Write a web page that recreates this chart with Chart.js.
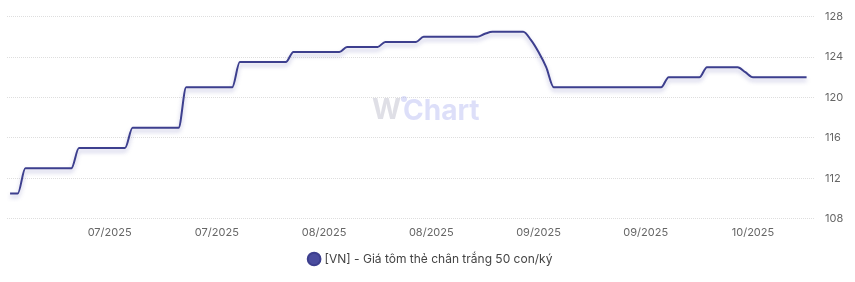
<!DOCTYPE html>
<html>
<head>
<meta charset="utf-8">
<script src="https://cdn.jsdelivr.net/npm/chart.js@4/dist/chart.umd.min.js"></script>
<style>
  html, body { margin: 0; padding: 0; background: #fff; }
  #wrap { position: relative; width: 855px; height: 282px; }
</style>
</head>
<body>
<div id="wrap"><canvas id="pricechart" width="855" height="282"></canvas></div>
<script>
// daily price, one value per day (k = 0..104)
var prices = [
    110.5, 110.5,
    113, 113, 113, 113, 113, 113, 113,
    115, 115, 115, 115, 115, 115, 115,
    117, 117, 117, 117, 117, 117, 117,
    121, 121, 121, 121, 121, 121, 121,
    123.5, 123.5, 123.5, 123.5, 123.5, 123.5, 123.5,
    124.5, 124.5, 124.5, 124.5, 124.5, 124.5, 124.5,
    125, 125, 125, 125, 125,
    125.5, 125.5, 125.5, 125.5, 125.5,
    126, 126, 126, 126, 126, 126, 126, 126,
    126.3,
    126.5, 126.5, 126.5, 126.5, 126.5,
    125.7, 124.5, 123.0,
    121, 121, 121, 121, 121, 121, 121, 121, 121, 121, 121, 121, 121, 121, 121,
    122, 122, 122, 122, 122,
    123, 123, 123, 123, 123,
    122.5,
    122, 122, 122, 122, 122, 122, 122, 122
];
var tickDays = [13, 27, 41, 55, 69, 83, 97];
var tickLabels = ['07/2025', '07/2025', '08/2025', '08/2025', '09/2025', '09/2025', '10/2025'];
var yTicks = [108, 112, 116, 120, 124, 128];
var seriesName = '[VN] - Giá tôm thẻ chân trắng 50 con/ký';

var points = prices.map(function (v, i) { return { x: i, y: v }; });

// soft shadow under the line
var lineShadow = {
    id: 'lineShadow',
    beforeDatasetDraw: function (chart) {
        var ctx = chart.ctx;
        ctx.save();
        ctx.shadowColor = 'rgba(70, 70, 160, 0.35)';
        ctx.shadowBlur = 4;
        ctx.shadowOffsetY = 3;
    },
    afterDatasetDraw: function (chart) {
        chart.ctx.restore();
    }
};

// faint watermark in the middle of the plot
var watermark = {
    id: 'watermark',
    beforeDatasetsDraw: function (chart) {
        var ctx = chart.ctx;
        ctx.save();
        ctx.font = 'bold 28px Inter, sans-serif';
        ctx.textBaseline = 'middle';
        ctx.fillStyle = 'rgba(185, 185, 200, 0.45)';
        ctx.fillText('W', 372, 111);
        ctx.fillStyle = 'rgba(170, 175, 240, 0.4)';
        ctx.fillText('Chart', 403, 112);
        ctx.beginPath();
        ctx.arc(404, 99, 3, 0, Math.PI * 2);
        ctx.fill();
        ctx.restore();
    }
};

var ctx = document.getElementById('pricechart').getContext('2d');
var chart = new Chart(ctx, {
    type: 'line',
    data: {
        datasets: [{
            label: seriesName,
            data: points,
            borderColor: '#3d3f8e',
            backgroundColor: '#4a4c9e',
            borderWidth: 2,
            pointRadius: 0,
            tension: 0.3,
            cubicInterpolationMode: 'monotone',
            fill: false
        }]
    },
    options: {
        responsive: false,
        animation: false,
        layout: { padding: { left: 7, top: 12, right: 0, bottom: 7 } },
        scales: {
            x: {
                type: 'linear',
                min: -0.4,
                max: 105.1,
                grid: { display: false, drawTicks: false },
                border: { display: false },
                afterBuildTicks: function (scale) {
                    scale.ticks = tickDays.map(function (d) { return { value: d }; });
                },
                ticks: {
                    padding: 7,
                    maxRotation: 0,
                    color: '#666',
                    font: { family: 'Inter', size: 11 },
                    callback: function (value) {
                        return tickLabels[tickDays.indexOf(value)];
                    }
                }
            },
            y: {
                position: 'right',
                min: 108,
                max: 128,
                afterBuildTicks: function (scale) {
                    scale.ticks = yTicks.map(function (v) { return { value: v }; });
                },
                afterFit: function (scale) { scale.width = 40; },
                grid: {
                    color: '#dedede',
                    drawTicks: false
                },
                border: { display: false, dash: [1, 1] },
                ticks: {
                    padding: 10,
                    color: '#666',
                    font: { family: 'Inter', size: 11 }
                }
            }
        },
        plugins: {
            legend: {
                position: 'bottom',
                labels: {
                    usePointStyle: true,
                    pointStyle: 'circle',
                    boxWidth: 9,
                    boxHeight: 9,
                    padding: 7,
                    color: '#444',
                    font: { family: 'Inter', size: 12 }
                }
            },
            tooltip: { enabled: false }
        }
    },
    plugins: [watermark, lineShadow]
});
</script>
</body>
</html>
